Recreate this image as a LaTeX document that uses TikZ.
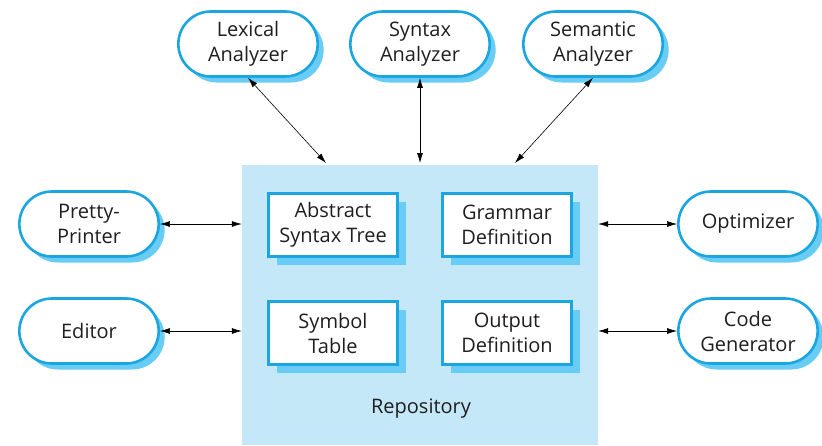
\documentclass[tikz,border=0pt]{standalone}
\usepackage{fontspec}
\setmainfont{Open Sans}
\usepackage{tikz}
\usetikzlibrary{arrows.meta,shapes.misc,shadows}
\definecolor{toolblue}{RGB}{27,166,226}
\definecolor{shadeblue}{RGB}{104,204,244}
\definecolor{repoblue}{RGB}{197,232,248}

\tikzset{
  tool/.style={rounded rectangle, draw=toolblue, line width=2.6pt, fill=white,
    minimum width=146pt, minimum height=65pt, align=center,
    copy shadow={shadow xshift=6pt, shadow yshift=-6pt, fill=shadeblue, draw=none}},
  store/.style={rectangle, draw=toolblue, line width=2.2pt, fill=white,
    minimum width=129pt, minimum height=63pt, align=center,
    copy shadow={shadow xshift=8pt, shadow yshift=-8pt, fill=shadeblue, draw=none}},
  link/.style={{Latex[length=10pt,width=6pt]}-{Latex[length=10pt,width=6pt]}, line width=0.6pt}
}

\begin{document}
\begin{tikzpicture}[x=1pt, y=-1pt, font=\fontsize{20}{25}\selectfont, text=black!88]
        \useasboundingbox (0,0) rectangle (822,445);
        % Repository
        \fill[repoblue] (242,165) rectangle (598,445);
        \node (repo) at (420,304) [minimum width=356pt, minimum height=280pt] {};
        \node (repolabel) at (421,409) {Repository};
        % Stored data
        \node[store] (ast) at (333,225) {Abstract\\Syntax Tree};
        \node[store] (gram) at (507,225) {Grammar\\Definition};
        \node[store] (symb) at (333,333) {Symbol\\Table};
        \node[store] (out) at (507,333) {Output\\Definition};
        % Tools around the repository
        \node[tool] (lex) at (248,44) {Lexical\\Analyzer};
        \node[tool] (syn) at (420,44) {Syntax\\Analyzer};
        \node[tool] (sem) at (593,44) {Semantic\\Analyzer};
        \node[tool] (pretty) at (89,224) {Pretty-\\Printer};
        \node[tool] (edit) at (89,331) {Editor};
        \node[tool] (opt) at (748,224) {Optimizer};
        \node[tool] (code) at (748,331) {Code\\Generator};
        % Links
        \coordinate (lexin) at (326,163);
        \coordinate (synin) at (420,163);
        \coordinate (semin) at (515,163);
        \draw[link] (lex.south) -- (lexin);
        \draw[link] (syn.south) -- (synin);
        \draw[link] (sem.south) -- (semin);
        \draw[link] (pretty.east) -- (repo.west |- pretty.east);
        \draw[link] (edit.east) -- (repo.west |- edit.east);
        \draw[link] (opt.west) -- (repo.east |- opt.west);
        \draw[link] (code.west) -- (repo.east |- code.west);
      \end{tikzpicture}
\end{document}
